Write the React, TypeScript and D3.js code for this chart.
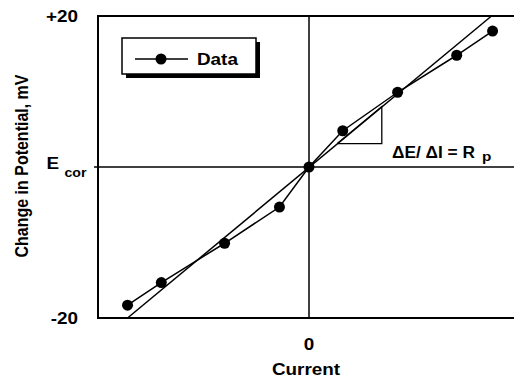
import React from "react";
import * as d3 from "d3";

// measured data (current is relative, potential in mV vs Ecor)
const current = [-0.86, -0.7, -0.4, -0.14, 0, 0.16, 0.42, 0.7, 0.87];
const potential = [-18.3, -15.3, -10.1, -5.3, 0, 4.8, 9.9, 14.8, 18.0];

// polarization resistance line, and the slope triangle
const rpCurrent = [-0.86, 0.865];
const rpPotential = [-20, 20];
const triCurrent = [0.134, 0.345, 0.345, 0.134];
const triPotential = [3.1, 3.1, 8.0, 3.1];

const yTicks = ["-20", "+20"];
const seriesName = "Data";

const W = 514;
const H = 378;
const SX = 1.18; // horizontal stretch of the original picture
const FONT = "'Liberation Sans', Arial, sans-serif";

const App = () => {
  const x = d3.scaleLinear().domain([-1, 1]).range([98, 520]);
  const y = d3.scaleLinear().domain([-20, 20]).range([318, 16]);

  const line = d3
    .line<number>()
    .x((d, i) => x(current[i]))
    .y((d) => y(d));
  const rpLine = d3
    .line<number>()
    .x((d, i) => x(rpCurrent[i]))
    .y((d) => y(d));
  const triLine = d3
    .line<number>()
    .x((d, i) => x(triCurrent[i]))
    .y((d) => y(d));

  const txt = (tx: number, ty: number, s: string, size = 16, anchor = "start") => (
    <text
      transform={`translate(${tx},${ty}) scale(${SX},1)`}
      fontSize={size}
      textAnchor={anchor}
    >
      {s}
    </text>
  );

  return (
    <svg
      width={W}
      height={H}
      style={{ position: "absolute", left: 0, top: 0, overflow: "hidden" }}
      fontFamily={FONT}
      fontWeight="bold"
    >
      <rect width={W} height={H} fill="white" />
      {/* frame */}
      <path
        d={`M${x(1)},${y(20)}H${x(-1)}V${y(-20)}H${x(1)}`}
        fill="none"
        stroke="black"
        strokeWidth={2}
      />
      {/* zero axes */}
      <line x1={x(0)} x2={x(0)} y1={y(20)} y2={y(-20)} stroke="black" strokeWidth={1.5} />
      <line x1={x(-1) - 4} x2={x(1)} y1={y(0)} y2={y(0)} stroke="black" strokeWidth={1.5} />

      {/* Rp line + triangle */}
      <path d={rpLine(rpPotential) || ""} fill="none" stroke="black" strokeWidth={1.5} />
      <path d={triLine(triPotential) || ""} fill="none" stroke="black" strokeWidth={1.3} />

      {/* data */}
      <path d={line(potential) || ""} fill="none" stroke="black" strokeWidth={1.5} />
      {potential.map((p, i) => (
        <circle key={i} cx={x(current[i])} cy={y(p)} r={5.5} fill="black" />
      ))}

      {/* y tick labels */}
      {txt(78, y(20) + 5.5, yTicks[1], 16, "end")}
      {txt(78, y(-20) + 6, yTicks[0], 16, "end")}
      {txt(46.5, y(0) + 2, "E", 16)}
      {txt(64.5, y(0) + 9.5, "cor", 12)}

      {/* x labels */}
      {txt(x(0), 350, "0", 16, "middle")}
      {txt(306, 375, "Current", 16, "middle")}

      {/* y title */}
      <text
        transform={`translate(28,166) scale(${SX},1) rotate(-90)`}
        fontSize={16}
        textAnchor="middle"
      >
        Change in Potential, mV
      </text>

      {/* annotation */}
      <text x={392} y={157.5} fontSize={16} textLength={83} lengthAdjust="spacingAndGlyphs">
        ΔE/ ΔI = R
      </text>
      {txt(482, 161, "p", 13)}

      {/* legend */}
      <rect x={126} y={42} width={134} height={36} fill="black" />
      <rect x={122} y={38} width={134} height={36} fill="white" stroke="black" strokeWidth={1.5} />
      <line x1={135} x2={188} y1={59} y2={59} stroke="black" strokeWidth={1.5} />
      <circle cx={161} cy={59} r={5.5} fill="black" />
      {txt(197, 64.5, seriesName, 16)}
    </svg>
  );
};

export default App;
